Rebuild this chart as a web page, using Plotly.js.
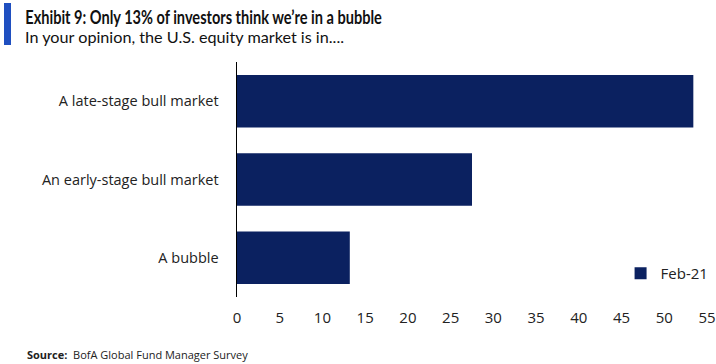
<!DOCTYPE html>
<html>
<head>
<meta charset="utf-8">
<script src="https://cdn.plot.ly/plotly-3.0.1.min.js"></script>
<style>
html,body{margin:0;padding:0;background:#fff;}
#chart{width:716px;height:364px;}
</style>
</head>
<body>
<div id="chart"></div>
<script>
var categories = ["A late-stage bull market", "An early-stage bull market", "A bubble"];
var values = [53.4, 27.5, 13.2];
var seriesName = "Feb-21";
var xTicks = [0, 5, 10, 15, 20, 25, 30, 35, 40, 45, 50, 55];

var trace = {
  type: "bar",
  orientation: "h",
  x: values,
  y: categories,
  name: seriesName,
  marker: {color: "#0b2160", line: {width: 0}},
  showlegend: true,
  hoverinfo: "x+y"
};

var PW = 470, PH = 235;
var layout = {
  width: 716, height: 364,
  margin: {l: 237, r: 9, t: 62, b: 67, autoexpand: false},
  paper_bgcolor: "#fff", plot_bgcolor: "#fff",
  font: {family: "Open Sans, sans-serif", color: "#222"},
  bargap: 0.33,
  showlegend: true,
  legend: {x: 1.014, xanchor: "right", y: 0.1, yanchor: "middle", font: {size: 15, color: "#222"}, bgcolor: "rgba(0,0,0,0)", itemwidth: 30},
  xaxis: {
    range: [0, 55], tickvals: xTicks, ticks: "", showgrid: false, zeroline: false,
    showline: false, tickfont: {size: 15, color: "#222"}, ticklabelstandoff: 10, fixedrange: true
  },
  yaxis: {
    autorange: "reversed", type: "category", ticks: "", showgrid: false, zeroline: false,
    showline: true, linecolor: "#000", linewidth: 1.5, tickfont: {size: 14.5, color: "#222"},
    ticklabelstandoff: 14, fixedrange: true
  },
  shapes: [
    {type: "rect", xref: "paper", yref: "paper", x0: (4-237)/PW, x1: (11-237)/PW, y0: 1 + (62-3)/PH, y1: 1 + (62-45)/PH, fillcolor: "#1f4fc0", line: {width: 0}}
  ],
  annotations: [
    {xref: "paper", yref: "paper", x: (23-237)/PW, y: 1 + (62-17)/PH, xanchor: "left", yanchor: "middle", showarrow: false,
     text: "<b>Exhibit 9: Only 13% of investors think we’re in a bubble</b>", font: {family: "Lato, sans-serif", size: 18, color: "#111"}},
    {xref: "paper", yref: "paper", x: (23-237)/PW, y: 1 + (62-36)/PH, xanchor: "left", yanchor: "middle", showarrow: false,
     text: "In your opinion, the U.S. equity market is in....", font: {family: "Lato, sans-serif", size: 16.2, color: "#111"}},
    {xref: "paper", yref: "paper", x: (25-237)/PW, y: -(354-297)/PH, xanchor: "left", yanchor: "middle", showarrow: false,
     text: "<b>Source:</b>  BofA Global Fund Manager Survey", font: {family: "Open Sans, sans-serif", size: 11, color: "#222"}}
  ]
};

Plotly.newPlot("chart", [trace], layout, {displayModeBar: false, staticPlot: true}).then(function () {
  var t = document.querySelectorAll("#chart .annotation-text")[0];
  if (t) {
    t.style.transformBox = "fill-box";
    t.style.transformOrigin = "left center";
    t.style.transform = "scaleX(0.81)";
  }
});
</script>
</body>
</html>
